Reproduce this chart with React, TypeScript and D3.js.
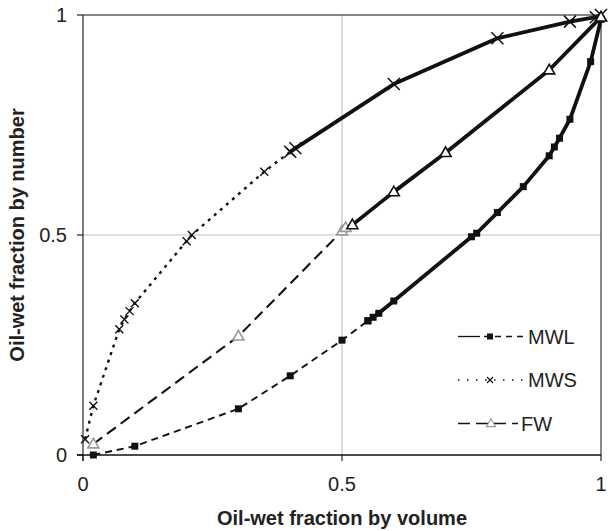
import React from "react";
import * as d3 from "d3";

// Oil-wet fraction by volume (x) vs by number (y) for three wetting models.
// Each model has an extrapolated low-fraction branch and a computed branch.
const mwlExtrap: [number, number][] = [
  [0.02, 0.0], [0.1, 0.02], [0.3, 0.105], [0.4, 0.18], [0.5, 0.261], [0.55, 0.305],
];
const mwlComputed: [number, number][] = [
  [0.55, 0.305], [0.56, 0.313], [0.571, 0.322], [0.6, 0.35], [0.75, 0.496],
  [0.76, 0.504], [0.8, 0.551], [0.85, 0.61], [0.9, 0.68], [0.91, 0.7],
  [0.92, 0.72], [0.94, 0.763], [0.98, 0.894], [1.0, 0.99],
];
const mwsExtrap: [number, number][] = [
  [0.004, 0.036], [0.02, 0.112], [0.07, 0.286], [0.08, 0.308], [0.09, 0.327],
  [0.1, 0.345], [0.2, 0.486], [0.21, 0.5], [0.35, 0.644], [0.4, 0.689],
];
const mwsComputed: [number, number][] = [
  [0.4, 0.689], [0.41, 0.697], [0.6, 0.843], [0.8, 0.947], [0.94, 0.985],
  [0.99, 0.995], [1.0, 1.0],
];
const fwExtrap: [number, number][] = [
  [0.02, 0.025], [0.3, 0.27], [0.5, 0.509], [0.507, 0.517],
];
const fwComputed: [number, number][] = [
  [0.52, 0.523], [0.6, 0.598], [0.7, 0.687], [0.9, 0.875], [1.0, 0.995],
];

const xTicks = [0, 0.5, 1];
const yTicks = [0, 0.5, 1];
const tickLabels = ["0", "0.5", "1"];
const legendNames = ["MWL", "MWS", "FW"];

const W = 608;
const H = 531;
const FONT = "'Liberation Sans', Arial, Helvetica, sans-serif";

export default function App() {
  const x = d3.scaleLinear().domain([0, 1]).range([83, 601]);
  const y = d3.scaleLinear().domain([0, 1]).range([455, 15]);
  const line = d3
    .line<[number, number]>()
    .x((d) => x(d[0]))
    .y((d) => y(d[1]));

  const square = (cx: number, cy: number, s: number, key: string) => (
    <rect key={key} x={cx - s / 2} y={cy - s / 2} width={s} height={s} fill="#111" />
  );
  const cross = (cx: number, cy: number, s: number, key: string, sw = 1.4) => (
    <path
      key={key}
      d={`M${cx - s / 2},${cy - s / 2}L${cx + s / 2},${cy + s / 2}M${cx - s / 2},${cy + s / 2}L${cx + s / 2},${cy - s / 2}`}
      stroke="#111"
      strokeWidth={sw}
      fill="none"
    />
  );
  const tri = (cx: number, cy: number, s: number, color: string, key: string, sw = 1.6) => {
    const h = s * 0.87;
    return (
      <path
        key={key}
        d={`M${cx},${cy - h * 0.6}L${cx + s / 2},${cy + h * 0.4}L${cx - s / 2},${cy + h * 0.4}Z`}
        stroke={color}
        strokeWidth={sw}
        fill="white"
      />
    );
  };

  const legendX0 = 458;
  const legendX1 = 523;
  const legendRows = [336.5, 380, 423.5];

  return (
    <svg
      width={W}
      height={H}
      style={{ position: "absolute", left: 0, top: 0, background: "white" }}
      fontFamily={FONT}
    >
      <rect width={W} height={H} fill="white" />
      {/* grid */}
      <line x1={x(0.5)} x2={x(0.5)} y1={y(0)} y2={y(1)} stroke="#c4c4c4" strokeWidth={1.2} />
      <line x1={x(0)} x2={x(1)} y1={y(0.5)} y2={y(0.5)} stroke="#c4c4c4" strokeWidth={1.2} />

      {/* frame */}
      <line x1={x(0)} x2={x(1)} y1={y(1)} y2={y(1)} stroke="#111" strokeWidth={1} />
      <line x1={x(1)} x2={x(1)} y1={y(1)} y2={y(0)} stroke="#111" strokeWidth={1} />
      <line x1={x(0)} x2={x(0)} y1={y(1)} y2={y(0) + 6} stroke="#111" strokeWidth={1.1} />
      <line x1={x(0) - 6} x2={x(1)} y1={y(0)} y2={y(0)} stroke="#111" strokeWidth={1.6} />

      {/* ticks and labels */}
      {xTicks.map((t, i) => (
        <g key={"xt" + i}>
          <line x1={x(t)} x2={x(t)} y1={y(0)} y2={y(0) + 6} stroke="#111" strokeWidth={1.1} />
          <text x={x(t)} y={491} textAnchor="middle" fontSize={20} fill="#222">
            {tickLabels[i]}
          </text>
        </g>
      ))}
      {yTicks.map((t, i) => (
        <g key={"yt" + i}>
          <line x1={x(0) - 6} x2={x(0)} y1={y(t)} y2={y(t)} stroke="#111" strokeWidth={1.1} />
          <text x={67} y={y(t) + 7} textAnchor="end" fontSize={20} fill="#222">
            {tickLabels[i]}
          </text>
        </g>
      ))}

      {/* axis titles */}
      <text x={x(0.5)} y={525} textAnchor="middle" fontSize={20} fontWeight="bold" fill="#222">
        Oil-wet fraction by volume
      </text>
      <text
        transform={`translate(24,${y(0.5)}) rotate(-90)`}
        textAnchor="middle"
        fontSize={20}
        fontWeight="bold"
        fill="#222"
      >
        Oil-wet fraction by number
      </text>

      {/* MWL */}
      <path d={line(mwlExtrap) ?? ""} fill="none" stroke="#111" strokeWidth={1.9} strokeDasharray="7,5" />
      <path d={line(mwlComputed) ?? ""} fill="none" stroke="#111" strokeWidth={3.8} strokeLinejoin="round" />
      {mwlExtrap.map((d, i) => square(x(d[0]), y(d[1]), 7, "mwle" + i))}
      {mwlComputed.map((d, i) => square(x(d[0]), y(d[1]), 7, "mwlc" + i))}

      {/* MWS */}
      <path d={line(mwsExtrap) ?? ""} fill="none" stroke="#111" strokeWidth={2.4} strokeDasharray="3,5" />
      <path d={line(mwsComputed) ?? ""} fill="none" stroke="#111" strokeWidth={3.8} strokeLinejoin="round" />
      {mwsExtrap.map((d, i) => cross(x(d[0]), y(d[1]), 8, "mwse" + i))}
      {mwsComputed.map((d, i) => cross(x(d[0]), y(d[1]), 12, "mwsc" + i, 1.5))}

      {/* FW */}
      <path d={line([...fwExtrap, fwComputed[0]]) ?? ""} fill="none" stroke="#111" strokeWidth={2.1} strokeDasharray="11,6" />
      <path d={line(fwComputed) ?? ""} fill="none" stroke="#111" strokeWidth={3.8} strokeLinejoin="round" />
      {fwExtrap.map((d, i) => tri(x(d[0]), y(d[1]), 11, "#9a9a9a", "fwe" + i))}
      {fwComputed.map((d, i) => tri(x(d[0]), y(d[1]), 11, "#111", "fwc" + i))}

      {/* legend */}
      <g>
        <line x1={legendX0} x2={480} y1={legendRows[0]} y2={legendRows[0]} stroke="#111" strokeWidth={1.3} />
        <line x1={480} x2={legendX1} y1={legendRows[0]} y2={legendRows[0]} stroke="#111" strokeWidth={1.3} strokeDasharray="6,5" strokeDashoffset={-4} />
        {square(490, legendRows[0], 6, "lg0")}
        <text x={528} y={legendRows[0] + 7} fontSize={20} fill="#222">{legendNames[0]}</text>

        <line x1={legendX0} x2={legendX1} y1={legendRows[1]} y2={legendRows[1]} stroke="#111" strokeWidth={1.6} strokeDasharray="1.5,7.5" />
        {cross(490, legendRows[1], 6, "lg1", 1.2)}
        <text x={528} y={legendRows[1] + 7} fontSize={20} fill="#222">{legendNames[1]}</text>

        <line x1={legendX0} x2={518} y1={legendRows[2]} y2={legendRows[2]} stroke="#111" strokeWidth={1.3} strokeDasharray="12,6" />
        {tri(491, legendRows[2], 9, "#9a9a9a", "lg2", 1.2)}
        <text x={521} y={legendRows[2] + 7} fontSize={20} fill="#222">{legendNames[2]}</text>
      </g>
    </svg>
  );
}
